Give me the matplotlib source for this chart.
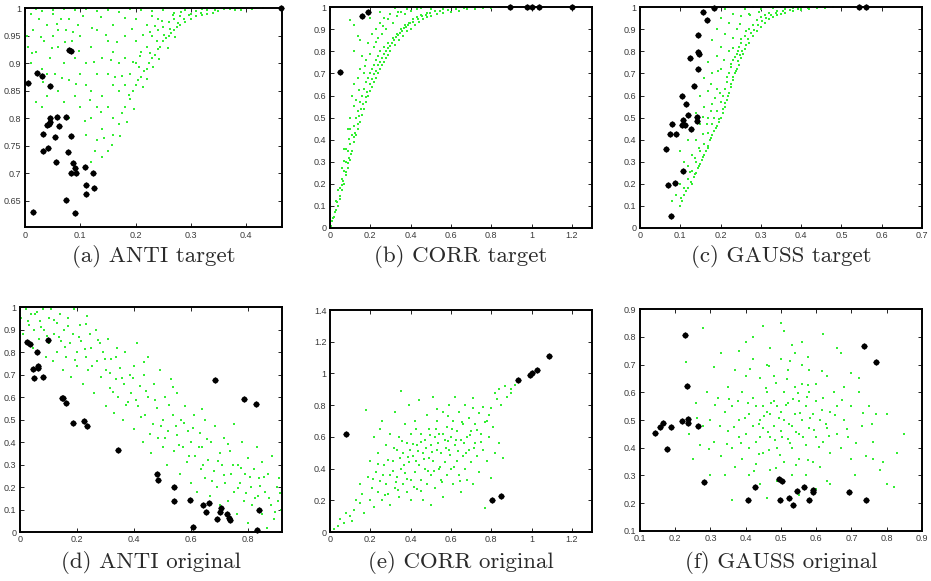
import numpy as np
import matplotlib
matplotlib.use("Agg")
import matplotlib.pyplot as plt

# ---- (a) ANTI target ----
anti_t_green = [
	(0.02,0.998),(0.03,0.995),(0.05,0.997),(0.07,0.999),(0.09,0.996),(0.11,0.998),(0.13,0.995),(0.15,0.997),
	(0.17,0.993),(0.19,0.998),(0.21,0.996),(0.23,0.994),(0.25,0.997),(0.27,0.992),(0.29,0.996),(0.31,0.994),
	(0.33,0.997),(0.35,0.995),(0.37,0.998),(0.39,0.997),(0.41,0.999),(0.43,1.0),(0.36,0.999),(0.32,0.999),
	(0.15,0.74),(0.16,0.77),(0.17,0.79),(0.175,0.81),(0.18,0.82),(0.19,0.835),(0.195,0.85),(0.2,0.86),
	(0.205,0.87),(0.21,0.875),(0.215,0.885),(0.22,0.89),(0.225,0.9),(0.23,0.91),(0.235,0.915),(0.24,0.925),
	(0.245,0.93),(0.25,0.94),(0.255,0.945),(0.26,0.95),(0.265,0.955),(0.27,0.96),(0.275,0.965),(0.28,0.97),
	(0.29,0.975),(0.3,0.98),(0.31,0.985),(0.32,0.987),(0.33,0.99),(0.34,0.992),(0.38,0.996),
	(0.2,0.9),(0.21,0.92),(0.22,0.93),(0.23,0.95),(0.24,0.96),(0.25,0.965),(0.26,0.975),(0.27,0.98),
	(0.28,0.985),(0.3,0.99),(0.19,0.88),(0.2,0.94),(0.22,0.97),(0.24,0.98),(0.18,0.86),(0.17,0.9),
	(0.16,0.86),(0.18,0.95),(0.2,0.98),(0.23,0.985),
	(0.1,0.82),(0.12,0.8),(0.13,0.76),(0.14,0.78),(0.12,0.85),(0.13,0.88),(0.14,0.84),(0.15,0.82),
	(0.16,0.8),(0.11,0.9),(0.12,0.93),(0.13,0.96),(0.14,0.91),(0.15,0.94),(0.16,0.97),(0.15,0.88),
	(0.17,0.85),(0.1,0.95),(0.11,0.77),(0.14,0.73),(0.12,0.72),(0.16,0.92),(0.18,0.91),(0.13,0.82),(0.11,0.86),
	(0.0,0.97),(0.003,0.95),(0.005,0.93),(0.01,0.9),(0.015,0.96),(0.02,0.92),(0.025,0.98),(0.03,0.89),
	(0.035,0.94),(0.04,0.97),(0.045,0.91),(0.05,0.95),(0.055,0.88),(0.06,0.93),(0.065,0.98),(0.07,0.9),
	(0.075,0.96),(0.08,0.87),(0.085,0.94),(0.09,0.91),(0.095,0.97),(0.02,0.83),(0.03,0.82),(0.04,0.84),
	(0.06,0.85),(0.07,0.83),(0.08,0.8),(0.09,0.84),(0.1,0.88),(0.05,0.99),(0.01,0.99),(0.06,0.96),
	(0.08,0.98),(0.04,0.88),
	(0.137,0.812),(0.163,0.874),(0.188,0.842),(0.207,0.893),(0.213,0.857),(0.227,0.918),(0.238,0.941),
	(0.252,0.952),(0.263,0.962),(0.277,0.973),(0.287,0.981),(0.296,0.988),(0.318,0.991),(0.344,0.996),
	(0.258,0.928),(0.243,0.907),(0.232,0.893),(0.221,0.871),(0.198,0.817),(0.184,0.794),(0.172,0.768),
	(0.158,0.752),(0.143,0.764),(0.126,0.741),(0.108,0.795),(0.117,0.833),(0.092,0.862),(0.067,0.873),
	(0.048,0.927),(0.028,0.948),(0.013,0.918),(0.073,0.938),(0.098,0.923),(0.124,0.902),(0.147,0.952),
	(0.167,0.938),(0.193,0.962),(0.214,0.951),(0.236,0.968),(0.267,0.988),(0.283,0.993),(0.138,0.983),
	(0.104,0.986),(0.057,0.972),(0.033,0.865),(0.087,0.957),(0.156,0.906),(0.176,0.877),(0.208,0.913),
	(0.196,0.903),(0.248,0.977),(0.272,0.947),(0.226,0.957),(0.181,0.982),(0.121,0.963)]
anti_t_black = [
	(0.463,1.0),(0.080,0.924),(0.084,0.923),(0.005,0.864),(0.022,0.882),(0.030,0.877),(0.046,0.858),
	(0.058,0.803),(0.046,0.800),(0.075,0.802),(0.046,0.793),(0.044,0.789),(0.039,0.787),(0.062,0.786),
	(0.032,0.771),(0.055,0.765),(0.084,0.767),(0.042,0.745),(0.032,0.740),(0.078,0.738),(0.056,0.720),
	(0.086,0.718),(0.090,0.709),(0.084,0.701),(0.092,0.700),(0.108,0.711),(0.123,0.701),(0.111,0.679),
	(0.111,0.662),(0.125,0.673),(0.075,0.652),(0.014,0.629),(0.090,0.627)]

# ---- (b) CORR target ----
corr_t_green = [
	(0.005,0.01),(0.01,0.03),(0.02,0.05),(0.03,0.08),(0.04,0.1),(0.05,0.13),(0.06,0.17),(0.07,0.2),
	(0.08,0.24),(0.09,0.27),(0.1,0.31),(0.11,0.35),(0.12,0.39),(0.13,0.42),(0.14,0.45),(0.15,0.48),
	(0.16,0.51),(0.17,0.54),(0.18,0.57),(0.19,0.6),(0.2,0.62),(0.21,0.64),(0.22,0.66),(0.23,0.68),
	(0.24,0.7),(0.25,0.72),(0.26,0.74),(0.27,0.75),(0.28,0.77),(0.29,0.785),(0.3,0.8),(0.32,0.83),
	(0.34,0.85),(0.36,0.87),(0.38,0.89),(0.4,0.9),(0.42,0.92),(0.44,0.935),(0.46,0.945),(0.48,0.955),
	(0.5,0.96),(0.53,0.97),(0.56,0.975),(0.6,0.98),(0.64,0.985),(0.68,0.99),(0.72,0.993),(0.76,0.996),
	(0.8,0.998),(0.84,1.0),
	(0.03,0.12),(0.05,0.18),(0.06,0.22),(0.07,0.26),(0.08,0.3),(0.09,0.35),(0.1,0.38),(0.11,0.42),
	(0.12,0.46),(0.13,0.5),(0.14,0.53),(0.15,0.57),(0.16,0.6),(0.17,0.63),(0.18,0.66),(0.19,0.68),
	(0.2,0.7),(0.21,0.72),(0.22,0.74),(0.23,0.76),(0.24,0.78),(0.25,0.8),(0.27,0.82),(0.29,0.84),
	(0.31,0.86),(0.33,0.88),(0.35,0.9),(0.37,0.92),(0.39,0.93),(0.41,0.945),(0.43,0.955),(0.45,0.965),
	(0.48,0.975),(0.52,0.985),(0.56,0.99),
	(0.04,0.17),(0.06,0.27),(0.07,0.36),(0.09,0.45),(0.1,0.5),(0.11,0.6),(0.12,0.65),(0.13,0.58),
	(0.14,0.68),(0.15,0.72),(0.16,0.78),(0.17,0.7),(0.18,0.76),(0.19,0.84),(0.2,0.79),(0.21,0.88),
	(0.22,0.82),(0.23,0.9),(0.24,0.86),(0.25,0.93),(0.26,0.88),(0.27,0.95),(0.28,0.9),(0.3,0.97),
	(0.31,0.93),(0.33,0.96),(0.35,0.98),(0.37,0.97),(0.4,0.985),(0.43,0.99),(0.1,0.94),(0.12,0.8),
	(0.12,0.92),(0.14,0.87),(0.15,0.85),(0.2,0.95),(0.25,0.98),(0.32,0.995),(0.45,0.995),(0.5,0.993),
	(0.1,0.45),(0.08,0.36),
	(0.013,0.045),(0.027,0.072),(0.036,0.118),(0.047,0.146),(0.058,0.193),(0.066,0.213),(0.077,0.252),
	(0.087,0.293),(0.094,0.318),(0.106,0.337),(0.117,0.412),(0.124,0.428),(0.137,0.472),(0.146,0.507),
	(0.156,0.538),(0.163,0.562),(0.176,0.593),(0.184,0.618),(0.196,0.652),(0.207,0.673),(0.216,0.697),
	(0.228,0.712),(0.237,0.737),(0.246,0.752),(0.258,0.768),(0.267,0.788),(0.276,0.803),(0.287,0.813),
	(0.297,0.826),(0.308,0.838),(0.318,0.852),(0.327,0.864),(0.338,0.873),(0.347,0.882),(0.358,0.893),
	(0.368,0.906),(0.377,0.912),(0.388,0.918),(0.396,0.927),(0.414,0.933),(0.436,0.948),(0.457,0.958),
	(0.474,0.966),(0.497,0.972),(0.546,0.982),(0.587,0.989),(0.623,0.992),(0.667,0.996),(0.118,0.553),
	(0.143,0.623),(0.173,0.733),(0.227,0.843),(0.263,0.917),(0.287,0.948),(0.336,0.978),(0.383,0.992),
	(0.093,0.402),(0.067,0.302)]
corr_t_black = [(0.047,0.705),(0.158,0.959),(0.188,0.980),(0.895,1.0),(0.975,1.0),(1.003,1.0),(1.038,1.0),(1.2,1.0)]

# ---- (c) GAUSS target ----
gauss_t_green = [
	(0.1,0.1),(0.105,0.12),(0.11,0.15),(0.12,0.18),(0.13,0.2),(0.135,0.23),(0.14,0.25),(0.145,0.27),
	(0.15,0.29),(0.155,0.31),(0.16,0.33),(0.165,0.35),(0.17,0.37),(0.175,0.4),(0.18,0.42),(0.185,0.44),
	(0.19,0.46),(0.195,0.48),(0.2,0.5),(0.205,0.52),(0.21,0.55),(0.215,0.58),(0.22,0.61),(0.225,0.64),
	(0.23,0.67),(0.235,0.7),(0.24,0.72),(0.245,0.74),(0.25,0.77),(0.255,0.79),(0.26,0.81),(0.27,0.84),
	(0.28,0.87),(0.29,0.89),(0.3,0.91),(0.31,0.93),(0.32,0.945),(0.33,0.955),(0.34,0.965),(0.35,0.97),
	(0.36,0.975),(0.38,0.982),(0.4,0.988),(0.42,0.992),(0.44,0.996),(0.46,0.998),(0.48,1.0),(0.5,1.0),
	(0.12,0.22),(0.13,0.26),(0.14,0.3),(0.15,0.35),(0.16,0.38),(0.17,0.43),(0.18,0.47),(0.185,0.5),
	(0.19,0.53),(0.2,0.57),(0.205,0.6),(0.21,0.63),(0.215,0.66),(0.22,0.7),(0.225,0.73),(0.23,0.76),
	(0.24,0.79),(0.245,0.82),(0.25,0.84),(0.26,0.87),(0.27,0.9),(0.28,0.92),(0.29,0.94),(0.3,0.955),
	(0.31,0.965),(0.32,0.975),(0.34,0.985),(0.36,0.99),(0.38,0.995),(0.4,0.998),
	(0.08,0.12),(0.09,0.15),(0.1,0.2),(0.1,0.35),(0.11,0.3),(0.12,0.4),(0.13,0.33),(0.13,0.45),
	(0.14,0.52),(0.14,0.4),(0.15,0.6),(0.15,0.47),(0.16,0.55),(0.16,0.68),(0.17,0.62),(0.17,0.75),
	(0.18,0.7),(0.18,0.85),(0.19,0.78),(0.19,0.9),(0.2,0.82),(0.2,0.95),(0.21,0.88),(0.21,0.99),
	(0.22,0.93),(0.23,0.97),(0.24,0.9),(0.25,0.96),(0.26,0.99),(0.27,0.97),(0.28,1.0),(0.3,0.99),
	(0.22,0.8),(0.23,0.86),(0.19,0.63),(0.18,0.56),(0.17,0.5),(0.11,0.18),(0.12,0.28),(0.2,0.72),
	(0.35,1.0),(0.33,0.995),
	(0.103,0.137),(0.114,0.167),(0.126,0.207),(0.137,0.243),(0.147,0.282),(0.157,0.322),(0.168,0.363),
	(0.177,0.408),(0.188,0.452),(0.197,0.493),(0.207,0.537),(0.212,0.567),(0.218,0.598),(0.227,0.652),
	(0.232,0.684),(0.238,0.712),(0.243,0.758),(0.248,0.783),(0.253,0.802),(0.262,0.827),(0.267,0.856),
	(0.276,0.881),(0.284,0.897),(0.293,0.918),(0.304,0.937),(0.314,0.953),(0.326,0.963),(0.337,0.976),
	(0.354,0.983),(0.372,0.989),(0.393,0.993),(0.417,0.996),(0.447,0.999),(0.227,0.743),(0.236,0.773),
	(0.244,0.803),(0.232,0.813),(0.252,0.858),(0.263,0.893),(0.217,0.683),(0.198,0.613),(0.187,0.587),
	(0.176,0.532),(0.167,0.473),(0.157,0.427),(0.146,0.363),(0.136,0.316),(0.124,0.252),(0.208,0.763),
	(0.193,0.713),(0.176,0.653),(0.157,0.503),(0.248,0.923),(0.273,0.963),(0.296,0.977)]
gauss_t_black = [
	(0.184,0.997),(0.157,0.98),(0.167,0.944),(0.145,0.872),(0.143,0.797),(0.146,0.789),(0.123,0.770),
	(0.144,0.719),(0.133,0.645),(0.104,0.597),(0.115,0.561),(0.118,0.514),(0.141,0.504),(0.141,0.486),
	(0.108,0.489),(0.080,0.469),(0.104,0.466),(0.113,0.466),(0.126,0.447),(0.075,0.424),(0.089,0.426),
	(0.064,0.356),(0.070,0.194),(0.087,0.205),(0.108,0.260),(0.077,0.053),(0.544,1.0),(0.562,1.0)]

# ---- (d) ANTI original ----
anti_o_green = [
	(0.005,0.95),(0.01,0.88),(0.02,0.99),(0.03,0.92),(0.04,0.97),(0.045,0.82),(0.05,0.9),
	(0.06,0.98),(0.065,0.86),(0.07,0.94),(0.08,0.99),(0.085,0.9),(0.09,0.78),(0.1,0.95),(0.1,0.84),
	(0.11,0.99),(0.115,0.76),(0.12,0.88),(0.13,0.93),(0.13,0.8),(0.14,0.97),(0.145,0.85),(0.15,0.72),
	(0.155,0.9),(0.16,0.78),(0.17,0.95),(0.175,0.84),(0.18,0.69),(0.185,0.88),(0.19,0.99),(0.2,0.8),(0.2,0.74),
	(0.21,0.92),(0.215,0.85),(0.22,0.66),(0.23,0.78),(0.235,0.96),(0.24,0.72),(0.245,0.88),(0.25,0.82),
	(0.26,0.62),(0.265,0.9),(0.27,0.76),(0.28,0.84),(0.285,0.69),(0.29,0.8),(0.3,0.56),(0.3,0.72),
	(0.31,0.86),(0.315,0.64),(0.32,0.77),(0.33,0.53),(0.335,0.68),(0.34,0.82),(0.345,0.6),(0.35,0.73),
	(0.36,0.5),(0.365,0.66),(0.37,0.8),(0.38,0.58),(0.385,0.7),(0.39,0.62),(0.4,0.46),(0.4,0.74),
	(0.41,0.84),(0.415,0.56),(0.42,0.65),(0.43,0.4),(0.435,0.7),(0.44,0.52),(0.45,0.6),(0.45,0.78),
	(0.46,0.35),(0.465,0.48),(0.47,0.66),(0.48,0.55),(0.485,0.42),(0.49,0.72),(0.5,0.5),(0.5,0.38),
	(0.51,0.6),(0.515,0.3),(0.52,0.45),(0.53,0.68),(0.535,0.52),(0.54,0.36),(0.55,0.43),(0.55,0.62),
	(0.56,0.26),(0.565,0.5),(0.57,0.38),(0.58,0.56),(0.585,0.31),(0.59,0.45),(0.6,0.22),(0.6,0.4),
	(0.61,0.52),(0.615,0.34),(0.62,0.18),(0.63,0.44),(0.635,0.28),(0.64,0.38),(0.65,0.5),(0.65,0.24),
	(0.66,0.32),(0.665,0.16),(0.67,0.4),(0.68,0.27),(0.685,0.47),(0.69,0.2),(0.7,0.35),(0.7,0.12),
	(0.71,0.3),(0.715,0.42),(0.72,0.22),(0.73,0.14),(0.735,0.36),(0.74,0.26),(0.75,0.18),(0.75,0.48),
	(0.76,0.08),(0.765,0.3),(0.77,0.22),(0.78,0.4),(0.785,0.14),(0.79,0.26),(0.8,0.04),(0.8,0.33),
	(0.81,0.2),(0.815,0.12),(0.82,0.28),(0.83,0.38),(0.835,0.16),(0.84,0.24),(0.85,0.08),(0.85,0.31),
	(0.86,0.18),(0.865,0.02),(0.87,0.26),(0.88,0.12),(0.885,0.34),(0.89,0.06),(0.9,0.2),(0.905,0.14),
	(0.91,0.24),(0.915,0.1),
	(0.027,0.937),(0.053,0.968),(0.073,0.912),(0.094,0.873),(0.118,0.943),(0.137,0.866),(0.158,0.823),
	(0.167,0.917),(0.193,0.763),(0.207,0.867),(0.228,0.812),(0.252,0.737),(0.273,0.853),(0.297,0.768),
	(0.317,0.707),(0.327,0.623),(0.356,0.687),(0.373,0.567),(0.396,0.683),(0.408,0.587),(0.423,0.513),
	(0.443,0.627),(0.457,0.437),(0.474,0.587),(0.493,0.473),(0.507,0.417),(0.524,0.563),(0.546,0.473),
	(0.558,0.387),(0.574,0.483),(0.593,0.337),(0.607,0.463),(0.627,0.377),(0.643,0.297),(0.657,0.413),
	(0.673,0.227),(0.694,0.317),(0.717,0.253),(0.728,0.393),(0.746,0.297),(0.763,0.197),(0.776,0.283),
	(0.793,0.173),(0.806,0.243),(0.823,0.153),(0.843,0.203),(0.857,0.243),(0.873,0.153),(0.896,0.087),
	(0.912,0.173),(0.637,0.547),(0.537,0.647),(0.436,0.757),(0.337,0.777),(0.233,0.923)]
anti_o_black = [
	(0.026,0.843),(0.035,0.837),(0.097,0.855),(0.058,0.801),(0.064,0.739),(0.064,0.729),(0.046,0.724),
	(0.049,0.684),(0.082,0.689),(0.146,0.594),(0.152,0.594),(0.160,0.573),(0.187,0.487),(0.226,0.492),
	(0.236,0.473),(0.345,0.364),(0.482,0.258),(0.484,0.233),(0.539,0.2),(0.539,0.139),(0.596,0.144),
	(0.608,0.022),(0.643,0.12),(0.651,0.087),(0.663,0.127),(0.684,0.676),(0.692,0.059),(0.702,0.089),
	(0.705,0.107),(0.726,0.079),(0.732,0.061),(0.737,0.053),(0.785,0.593),(0.827,0.570),(0.837,0.099),
	(0.833,0.007)]

# ---- (e) CORR original ----
corr_o_green = [
	(0.0,0.0),(0.02,0.02),(0.04,0.04),(0.05,0.08),(0.07,0.06),(0.08,0.12),(0.1,0.1),(0.11,0.07),
	(0.12,0.14),(0.13,0.2),(0.15,0.18),(0.15,0.3),(0.16,0.24),(0.17,0.12),
	(0.18,0.77),(0.19,0.35),(0.2,0.2),(0.2,0.45),(0.21,0.28),(0.22,0.6),(0.22,0.16),(0.23,0.38),
	(0.24,0.25),(0.24,0.5),(0.25,0.32),(0.26,0.7),(0.26,0.2),(0.27,0.42),(0.28,0.3),(0.28,0.55),
	(0.29,0.24),(0.3,0.36),(0.3,0.62),(0.3,0.17),
	(0.31,0.45),(0.32,0.28),(0.32,0.76),(0.33,0.52),(0.33,0.35),(0.34,0.22),(0.34,0.6),(0.35,0.4),
	(0.35,0.89),(0.36,0.3),(0.36,0.5),(0.37,0.68),(0.37,0.37),(0.38,0.25),(0.38,0.56),(0.39,0.44),
	(0.39,0.8),(0.4,0.33),(0.4,0.62),(0.4,0.2),
	(0.41,0.48),(0.42,0.38),(0.42,0.7),(0.43,0.55),(0.43,0.27),(0.44,0.83),(0.44,0.42),(0.45,0.62),
	(0.45,0.33),(0.46,0.5),(0.46,0.2),(0.47,0.58),(0.47,0.4),(0.48,0.74),(0.48,0.3),(0.49,0.47),
	(0.49,0.65),(0.5,0.55),(0.5,0.36),(0.5,0.17),
	(0.51,0.85),(0.51,0.45),(0.52,0.6),(0.52,0.28),(0.53,0.52),(0.53,0.7),(0.54,0.4),(0.54,0.62),
	(0.55,0.33),(0.55,0.5),(0.56,0.76),(0.56,0.22),(0.57,0.58),(0.57,0.44),(0.58,0.66),(0.58,0.36),
	(0.59,0.52),(0.59,0.8),(0.6,0.6),(0.6,0.4),
	(0.61,0.7),(0.61,0.3),(0.62,0.55),(0.62,0.85),(0.63,0.45),(0.63,0.64),(0.64,0.36),(0.64,0.76),
	(0.65,0.58),(0.65,0.25),(0.66,0.68),(0.66,0.48),(0.67,0.8),(0.67,0.4),(0.68,0.6),(0.68,0.33),
	(0.69,0.72),(0.69,0.52),(0.7,0.64),(0.7,0.44),
	(0.71,0.78),(0.71,0.3),(0.72,0.56),(0.72,0.68),(0.73,0.48),(0.74,0.75),(0.74,0.38),(0.75,0.62),
	(0.76,0.52),(0.76,0.79),(0.77,0.15),(0.78,0.7),(0.78,0.45),(0.79,0.6),(0.8,0.78),(0.8,0.34),
	(0.81,0.66),(0.82,0.88),(0.82,0.5),(0.83,0.84),(0.84,0.56),(0.84,0.9),(0.85,0.8),(0.86,0.47),
	(0.87,0.92),(0.88,0.85),(0.9,0.9),(0.9,0.88),(0.92,0.93),
	(0.237,0.428),(0.263,0.357),(0.287,0.457),(0.312,0.383),(0.327,0.313),(0.347,0.467),(0.367,0.423),
	(0.383,0.337),(0.397,0.517),(0.413,0.553),(0.427,0.447),(0.437,0.513),(0.453,0.567),(0.467,0.463),
	(0.477,0.527),(0.487,0.383),(0.497,0.613),(0.507,0.507),(0.517,0.387),(0.527,0.647),(0.537,0.563),
	(0.547,0.413),(0.563,0.617),(0.573,0.527),(0.587,0.573),(0.597,0.487),(0.607,0.653),(0.617,0.413),
	(0.627,0.583),(0.637,0.513),(0.653,0.697),(0.667,0.563),(0.677,0.497),(0.693,0.613),(0.713,0.527),
	(0.727,0.643),(0.747,0.567),(0.767,0.693),(0.787,0.737),(0.357,0.573),(0.273,0.233),(0.417,0.283),
	(0.453,0.257),(0.337,0.263),(0.557,0.313),(0.643,0.323),(0.247,0.647),(0.427,0.653),(0.533,0.777),
	(0.583,0.733),(0.707,0.847),(0.317,0.527),(0.387,0.473),(0.213,0.337)]
corr_o_black = [(0.077,0.621),(0.802,0.204),(0.847,0.225),(0.933,0.962),(0.99,0.992),(1.0,1.0),(1.025,1.019),(1.085,1.109)]

# ---- (f) GAUSS original ----
gauss_o_green = [
	(0.4,0.45),(0.41,0.52),(0.42,0.58),(0.43,0.42),(0.44,0.5),(0.45,0.55),(0.45,0.47),(0.46,0.6),
	(0.47,0.44),(0.47,0.52),(0.48,0.57),(0.48,0.48),(0.49,0.4),(0.5,0.53),(0.5,0.46),(0.51,0.6),
	(0.51,0.5),(0.52,0.43),(0.52,0.56),(0.53,0.48),(0.54,0.52),(0.54,0.62),(0.55,0.45),(0.55,0.57),
	(0.56,0.5),(0.57,0.41),(0.57,0.55),(0.58,0.6),(0.58,0.47),(0.59,0.52),(0.6,0.44),(0.6,0.57),
	(0.42,0.48),(0.44,0.44),(0.46,0.53),(0.49,0.55),(0.53,0.4),(0.56,0.63),(0.41,0.4),(0.43,0.55),
	(0.3,0.5),(0.31,0.42),(0.32,0.58),(0.33,0.37),(0.34,0.53),(0.35,0.46),(0.35,0.62),(0.36,0.4),
	(0.36,0.55),(0.37,0.33),(0.37,0.68),(0.38,0.5),(0.38,0.44),(0.39,0.6),(0.39,0.36),(0.4,0.66),
	(0.41,0.3),(0.42,0.72),(0.43,0.34),(0.44,0.65),(0.45,0.38),(0.46,0.7),(0.47,0.32),(0.48,0.66),
	(0.49,0.28),(0.5,0.72),(0.51,0.35),(0.52,0.68),(0.53,0.3),(0.54,0.74),(0.55,0.36),(0.56,0.7),
	(0.57,0.3),(0.58,0.68),(0.59,0.35),(0.6,0.63),(0.61,0.5),(0.62,0.42),(0.62,0.58),(0.63,0.47),
	(0.64,0.53),(0.64,0.38),(0.65,0.6),(0.66,0.45),(0.66,0.55),(0.67,0.4),(0.68,0.5),(0.68,0.62),
	(0.69,0.44),(0.7,0.55),(0.7,0.36),(0.63,0.66),(0.61,0.33),
	(0.23,0.71),(0.24,0.45),(0.25,0.36),(0.26,0.56),(0.27,0.41),(0.28,0.83),(0.28,0.48),(0.29,0.6),
	(0.3,0.3),(0.31,0.69),(0.33,0.74),(0.34,0.3),(0.36,0.21),(0.38,0.75),(0.4,0.78),(0.42,0.8),
	(0.44,0.27),(0.45,0.84),(0.47,0.76),(0.5,0.85),(0.51,0.82),(0.53,0.77),(0.55,0.23),(0.56,0.78),
	(0.6,0.25),(0.62,0.81),(0.63,0.28),(0.66,0.76),(0.67,0.74),(0.7,0.67),(0.71,0.3),(0.72,0.6),
	(0.73,0.48),(0.74,0.37),(0.75,0.55),(0.76,0.42),(0.77,0.52),(0.78,0.32),(0.79,0.35),(0.8,0.27),
	(0.8,0.52),(0.82,0.26),(0.83,0.38),(0.85,0.45),(0.76,0.36),(0.72,0.65),(0.46,0.22),(0.64,0.27),
	(0.437,0.487),(0.453,0.513),(0.463,0.457),(0.473,0.563),(0.483,0.427),(0.493,0.507),(0.503,0.437),
	(0.513,0.553),(0.523,0.487),(0.533,0.577),(0.543,0.457),(0.553,0.527),(0.563,0.437),(0.573,0.583),
	(0.583,0.507),(0.593,0.463),(0.457,0.617),(0.487,0.633),(0.517,0.647),(0.547,0.597),(0.527,0.417),
	(0.497,0.373),(0.467,0.393),(0.437,0.377),(0.407,0.563),(0.397,0.507),(0.387,0.417),(0.377,0.567),
	(0.367,0.473),(0.617,0.537),(0.627,0.487),(0.637,0.443),(0.653,0.517),(0.673,0.573),(0.687,0.467),
	(0.607,0.403),(0.577,0.357),(0.543,0.337),(0.487,0.327),(0.423,0.317),(0.347,0.413),(0.327,0.477),
	(0.313,0.553),(0.353,0.577),(0.413,0.683),(0.467,0.693),(0.527,0.713),(0.577,0.627),(0.617,0.677),
	(0.713,0.417),(0.733,0.527),(0.757,0.487),(0.263,0.507),(0.297,0.397),(0.577,0.727)]
gauss_o_black = [
	(0.142,0.454),(0.157,0.476),(0.166,0.49),(0.187,0.476),(0.178,0.394),(0.218,0.496),(0.228,0.806),
	(0.234,0.624),(0.236,0.502),(0.236,0.488),(0.264,0.48),(0.281,0.275),(0.426,0.257),(0.407,0.213),
	(0.495,0.286),(0.503,0.281),(0.496,0.211),(0.523,0.22),(0.534,0.195),(0.545,0.243),(0.564,0.257),
	(0.58,0.211),(0.59,0.247),(0.592,0.24),(0.692,0.242),(0.741,0.213),(0.735,0.765),(0.77,0.708)]

captions = ["(a) ANTI target", "(b) CORR target", "(c) GAUSS target",
	"(d) ANTI original", "(e) CORR original", "(f) GAUSS original"]
x_ticks = [[0,0.1,0.2,0.3,0.4], [0,0.2,0.4,0.6,0.8,1,1.2], [0,0.1,0.2,0.3,0.4,0.5,0.6,0.7],
	[0,0.2,0.4,0.6,0.8], [0,0.2,0.4,0.6,0.8,1,1.2], [0.1,0.2,0.3,0.4,0.5,0.6,0.7,0.8,0.9]]
y_ticks = [[0.65,0.7,0.75,0.8,0.85,0.9,0.95,1], [0,0.1,0.2,0.3,0.4,0.5,0.6,0.7,0.8,0.9,1],
	[0,0.1,0.2,0.3,0.4,0.5,0.6,0.7,0.8,0.9,1], [0,0.1,0.2,0.3,0.4,0.5,0.6,0.7,0.8,0.9,1],
	[0,0.2,0.4,0.6,0.8,1,1.2,1.4], [0.1,0.2,0.3,0.4,0.5,0.6,0.7,0.8,0.9]]
x_lims = [(0,0.465), (0,1.3), (0,0.7), (0,0.919), (0,1.3), (0.1,0.9)]
y_lims = [(0.602,1.0), (0,1), (0,1), (0,1), (0,1.4), (0.1,0.9)]

greens = [anti_t_green, corr_t_green, gauss_t_green, anti_o_green, corr_o_green, gauss_o_green]
blacks = [anti_t_black, corr_t_black, gauss_t_black, anti_o_black, corr_o_black, gauss_o_black]

# axes boxes in figure fraction [left, bottom, width, height]
boxes = [[0.0269,0.609,0.276,0.377], [0.3545,0.6076,0.2814,0.380], [0.6874,0.6076,0.3029,0.380],
	[0.0215,0.0843,0.2814,0.387], [0.3545,0.0843,0.2814,0.382], [0.6874,0.0861,0.3029,0.382]]


def draw_panel(fig, box, green, black, xt, yt, xl, yl, caption, cap_y):
	ax = fig.add_axes(box)
	g = np.array(green)
	b = np.array(black)
	ax.scatter(g[:,0], g[:,1], s=3.5, marker='s', color='#33ee33', linewidths=0, clip_on=False, zorder=2)
	ax.scatter(b[:,0], b[:,1], s=18, marker='o', color='black', linewidths=0, clip_on=False, zorder=3)
	ax.scatter(b[:,0], b[:,1], s=24, marker='+', color='black', linewidths=0.8, clip_on=False, zorder=3)
	ax.set_xlim(*xl)
	ax.set_ylim(*yl)
	ax.set_xticks(xt)
	ax.set_yticks(yt)
	ax.set_xticklabels(['%g' % v for v in xt])
	ax.set_yticklabels(['%g' % v for v in yt])
	ax.tick_params(direction='in', length=3, width=0.6, labelsize=6.5, labelcolor='#3a3a3a',
		top=True, right=True, pad=2.5)
	for lab in ax.get_xticklabels() + ax.get_yticklabels():
		lab.set_family('Liberation Sans')
	for sp in ax.spines.values():
		sp.set_linewidth(1.4)
	cx = box[0] + box[2] / 2
	fig.text(cx, cap_y, caption, ha='center', va='center', fontsize=16.5,
		family='cmr10', color='#2a2a2a')
	return ax


fig = plt.figure(figsize=(9.31,5.81), dpi=100)
for i in range(6):
	cap_y = 1 - 257/581 if i < 3 else 1 - 563/581
	draw_panel(fig, boxes[i], greens[i], blacks[i], x_ticks[i], y_ticks[i],
		x_lims[i], y_lims[i], captions[i], cap_y)

fig.savefig('out.png', dpi=100)
